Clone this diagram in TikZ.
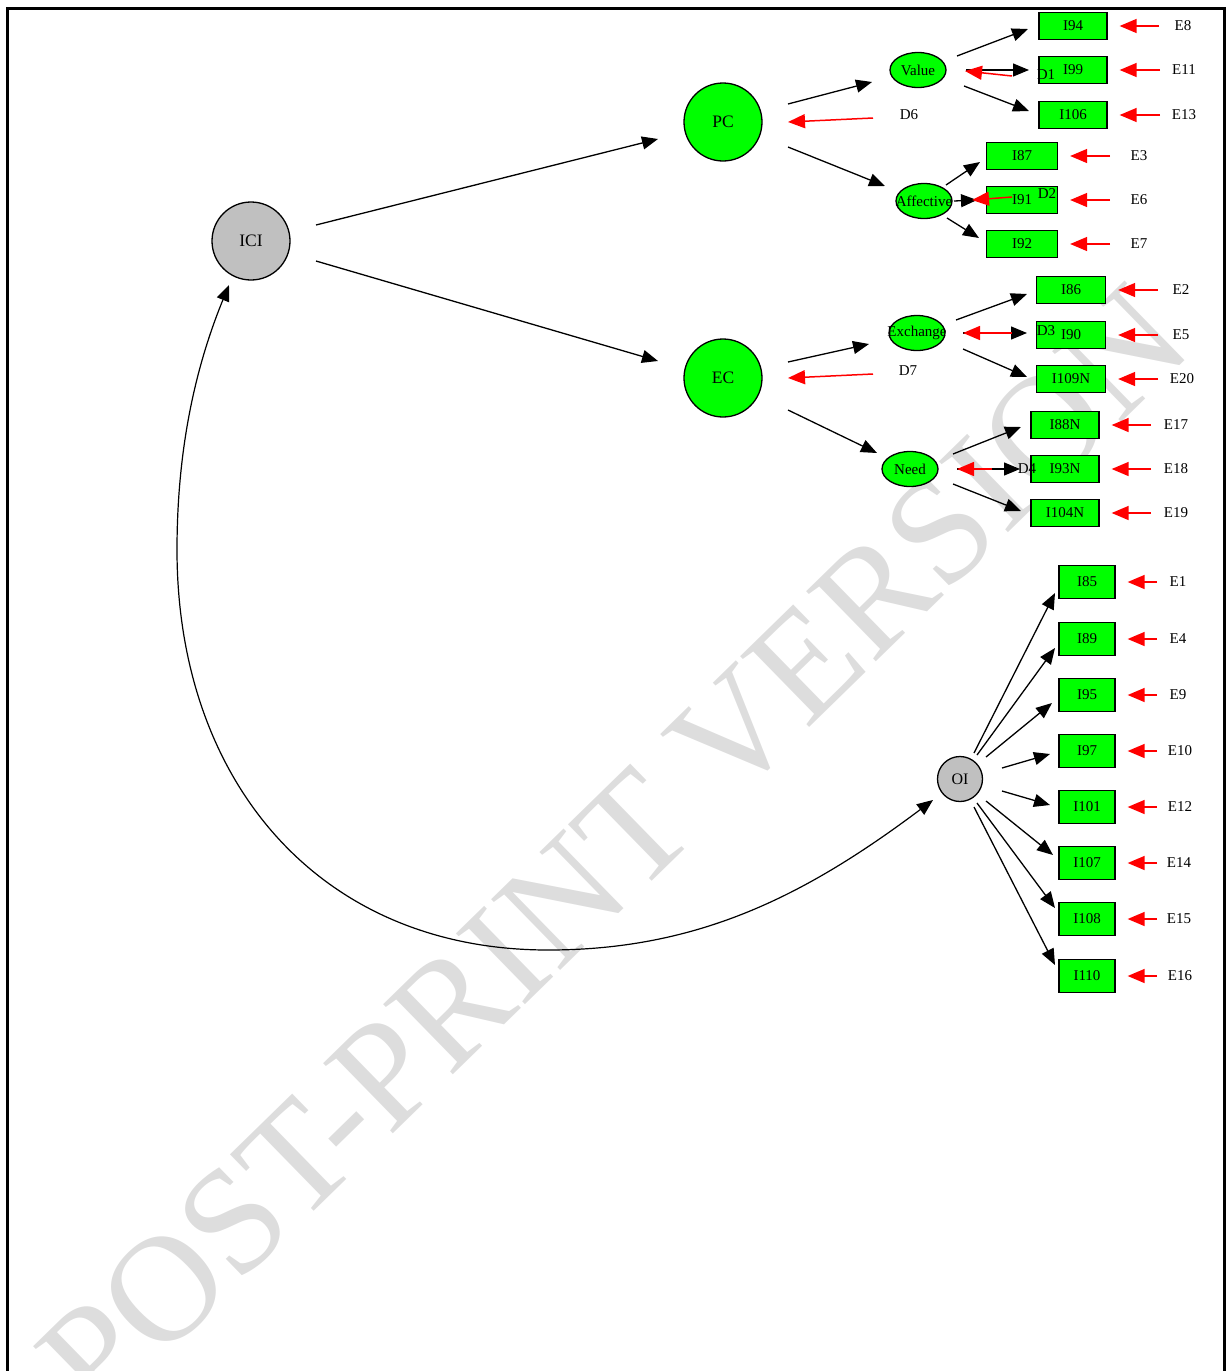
\documentclass[tikz,border=0pt]{standalone}
\usepackage{fontspec}
\setmainfont{Liberation Serif}
\usetikzlibrary{arrows.meta,shapes.geometric,calc}
\definecolor{nodegreen}{RGB}{0,255,0}
\definecolor{nodegray}{RGB}{192,192,192}
\definecolor{wmgray}{RGB}{221,221,221}
\begin{document}
\begin{tikzpicture}[x=0.5pt,y=-0.5pt,
  every node/.style={font=\fontsize{7.5pt}{9pt}\selectfont, inner sep=0pt},
  bigfac/.style={circle, draw, line width=0.65pt, fill=nodegreen, minimum size=39pt, font=\fontsize{8.75pt}{10pt}\selectfont},
  rootfac/.style={circle, draw, line width=0.65pt, fill=nodegray, minimum size=39pt, font=\fontsize{8.75pt}{10pt}\selectfont},
  smallroot/.style={circle, draw, line width=0.65pt, fill=nodegray, minimum size=22.5pt, font=\fontsize{8pt}{9pt}\selectfont},
  subfac/.style={ellipse, draw, line width=0.65pt, fill=nodegreen, minimum width=28pt, minimum height=17.5pt},
  item/.style={rectangle, draw, line width=0.65pt, fill=nodegreen, minimum width=#1, minimum height=13.5pt},
  item/.default=34pt,
  oitem/.style={rectangle, draw, line width=0.65pt, fill=nodegreen, minimum width=28pt, minimum height=16.5pt},
  edge/.style={line width=0.65pt, -{Triangle[length=8pt,width=6.5pt]}},
  err/.style={red, line width=0.75pt, -{Triangle[length=8.5pt,width=7pt]}},
  curved/.style={line width=0.6pt, {Triangle[length=8pt,width=6.5pt]}-{Triangle[length=8pt,width=6.5pt]}}
]
\useasboundingbox (0,0) rectangle (1226,1371);

% watermark
\node[rotate=44.3, text=wmgray, font=\fontsize{75.5pt}{80pt}\selectfont] (wm) at (614,850) {POST-PRINT VERSION};

% page frame (open at the bottom)
\draw[line width=1.5pt] (7.5,1371) -- (7.5,8.5) -- (1224.5,8.5) -- (1224.5,1371);

% latent factors
\node[rootfac] (ICI) at (251,241) {ICI};
\node[bigfac] (PC) at (723,122) {PC};
\node[bigfac] (EC) at (723,378) {EC};
\node[smallroot] (OI) at (960,779) {OI};

\node[subfac, label=center:Value] (Value) at (918,70) {};
\node[subfac, label=center:Affective] (Aff) at (924,201) {};
\node[subfac, label=center:Exchange] (Exch) at (917,333) {};
\node[subfac, label=center:Need] (Need) at (910,469) {};

% indicators
\node[item] (I94) at (1073,26) {I94};
\node[item] (I99) at (1073,70) {I99};
\node[item] (I106) at (1073,115) {I106};
\node[item=35.5pt] (I87) at (1022,156) {I87};
\node[item=35.5pt] (I91) at (1022,200) {I91};
\node[item=35.5pt] (I92) at (1022,244) {I92};
\node[item=34.5pt] (I86) at (1071,290) {I86};
\node[item=34.5pt] (I90) at (1071,335) {I90};
\node[item=34.5pt] (I109N) at (1071,379) {I109N};
\node[item] (I88N) at (1065,425) {I88N};
\node[item] (I93N) at (1065,469) {I93N};
\node[item] (I104N) at (1065,513) {I104N};

\node[oitem] (I85) at (1087,582) {I85};
\node[oitem] (I89) at (1087,639) {I89};
\node[oitem] (I95) at (1087,695) {I95};
\node[oitem] (I97) at (1087,751) {I97};
\node[oitem] (I101) at (1087,807) {I101};
\node[oitem] (I107) at (1087,863) {I107};
\node[oitem] (I108) at (1087,919) {I108};
\node[oitem] (I110) at (1087,976) {I110};

% error terms
\node (E8) at (1183,26) {E8};
\node (E11) at (1184,70) {E11};
\node (E13) at (1184,115) {E13};
\node (E3) at (1139,156) {E3};
\node (E6) at (1139,200) {E6};
\node (E7) at (1139,244) {E7};
\node (E2) at (1181,290) {E2};
\node (E5) at (1181,335) {E5};
\node (E20) at (1182,379) {E20};
\node (E17) at (1176,425) {E17};
\node (E18) at (1176,469) {E18};
\node (E19) at (1176,513) {E19};
\node (E1) at (1178,582) {E1};
\node (E4) at (1178,639) {E4};
\node (E9) at (1178,695) {E9};
\node (E10) at (1180,751) {E10};
\node (E12) at (1180,807) {E12};
\node (E14) at (1179,863) {E14};
\node (E15) at (1179,919) {E15};
\node (E16) at (1180,976) {E16};

% disturbances
\node (D6) at (909,115) {D6};
\node (D7) at (908,371) {D7};
\node (D1) at (1046,75) {D1};
\node (D2) at (1047,194) {D2};
\node (D3) at (1046,331) {D3};
\node (D4) at (1027,469) {D4};

% structural paths
\draw[edge] ($(ICI)+(65,-16)$) -- ($(PC)+(-65,17)$);
\draw[edge] ($(ICI)+(65,20)$) -- ($(EC)+(-65,-17)$);
\draw[edge] ($(PC)+(65,-18)$) -- ($(Value)+(-46,12)$);
\draw[edge] ($(PC)+(65,25)$) -- ($(Aff)+(-39,-15)$);
\draw[edge] ($(EC)+(65,-16)$) -- ($(Exch)+(-48,11)$);
\draw[edge] ($(EC)+(65,32)$) -- ($(Need)+(-33,-16)$);

% loadings
\draw[edge] ($(Value)+(39,-14)$) -- ($(I94)+(-45,3)$);
\draw[edge] ($(Value)+(48,0)$) -- ($(I99)+(-44,0)$);
\draw[edge] ($(Value)+(46,16)$) -- ($(I106)+(-44,-4)$);
\draw[edge] ($(Aff)+(22,-16)$) -- ($(I87)+(-42,6)$);
\draw[edge] ($(Aff)+(30,0)$) -- ($(I91)+(-45,0)$);
\draw[edge] ($(Aff)+(23,17)$) -- ($(I92)+(-43,-6)$);
\draw[edge] ($(Exch)+(39,-13)$) -- ($(I86)+(-44,4)$);
\draw[edge] ($(Exch)+(46,0)$) -- ($(I90)+(-44,-2)$);
\draw[edge] ($(Exch)+(46,16)$) -- ($(I109N)+(-44,-2)$);
\draw[edge] ($(Need)+(43,-15)$) -- ($(I88N)+(-44,2)$);
\draw[edge] ($(Need)+(47,0)$) -- ($(I93N)+(-45,0)$);
\draw[edge] ($(Need)+(43,15)$) -- ($(I104N)+(-44,-2)$);

\draw[edge] ($(OI)+(14,-26)$) -- ($(I85)+(-32,11)$);
\draw[edge] ($(OI)+(17,-24)$) -- ($(I89)+(-32,9)$);
\draw[edge] ($(OI)+(26,-22)$) -- ($(I95)+(-35,8)$);
\draw[edge] ($(OI)+(42,-11)$) -- ($(I97)+(-37,3)$);
\draw[edge] ($(OI)+(42,12)$) -- ($(I101)+(-37,-2)$);
\draw[edge] ($(OI)+(26,22)$) -- ($(I107)+(-34,-8)$);
\draw[edge] ($(OI)+(17,24)$) -- ($(I108)+(-32,-11)$);
\draw[edge] ($(OI)+(14,28)$) -- ($(I110)+(-32,-11)$);

% disturbance arrows
\draw[err] ($(D6)+(-36,3)$) -- ($(PC)+(65,0)$);
\draw[err] ($(D7)+(-35,3)$) -- ($(EC)+(65,0)$);
\draw[err] ($(D1)+(-34,1)$) -- ($(Value)+(47,1)$);
\draw[err] ($(D2)+(-35,3)$) -- ($(Aff)+(48,-1)$);
\draw[err] ($(D3)+(-34,2)$) -- ($(Exch)+(46,0)$);
\draw[err] ($(D4)+(-35,0)$) -- ($(Need)+(47,0)$);

% error arrows
\foreach \e/\i/\d in {E8/I94/24,E11/I99/24,E13/I106/24,E3/I87/29,E6/I91/29,E7/I92/29,
  E2/I86/23,E5/I90/23,E20/I109N/24,E17/I88N/25,E18/I93N/25,E19/I104N/25,
  E1/I85/21,E4/I89/21,E9/I95/21,E10/I97/23,E12/I101/23,E14/I107/22,E15/I108/22,E16/I110/23}
  \draw[err] ($(\e)+(-\d,0)$) -- ($(\i.east)+(12,0)$);

% covariance ICI -- OI
\draw[curved] ($(ICI)+(-22,44)$) .. controls (195,368) and (177,450) .. (177,550)
  .. controls (177,780) and (318,950) .. (548,950)
  .. controls (698,950) and (805,896) .. ($(OI)+(-27,21)$);
\end{tikzpicture}
\end{document}
